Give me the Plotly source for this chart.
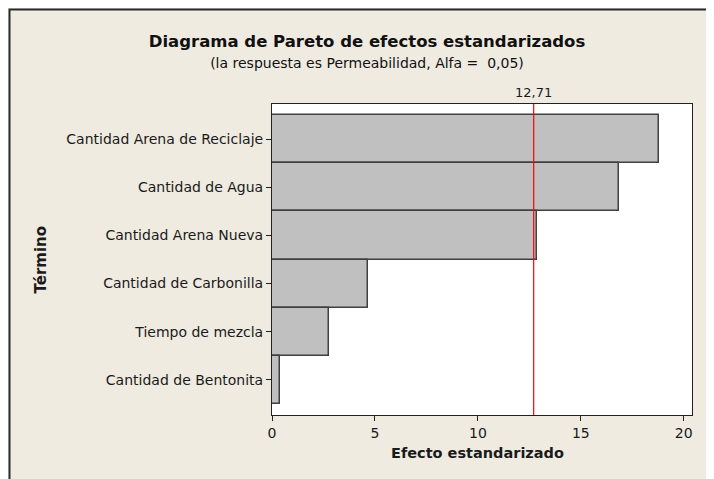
import plotly.graph_objects as go

TERMS = [
    'Cantidad Arena de Reciclaje',
    'Cantidad de Agua',
    'Cantidad Arena Nueva',
    'Cantidad de Carbonilla',
    'Tiempo de mezcla',
    'Cantidad de Bentonita',
]
EFFECTS = [18.8, 16.85, 12.87, 4.66, 2.77, 0.39]
CRITICAL = 12.71
X_TICKS = [0, 5, 10, 15, 20]

FONT = 'DejaVu Sans'
BG = '#EFEBE1'
INK = '#1a1a1a'

# page body keeps its 8px margin, so the paper starts at (8, 8)
W, H = 706, 471
L, R, T, B = 264, 22, 96, 64
PW, PH = W - L - R, H - T - B

fig = go.Figure()
fig.add_trace(go.Bar(
    x=EFFECTS,
    y=TERMS,
    orientation='h',
    marker=dict(color='#C0C0C0', line=dict(color='#404040', width=1.5)),
    hoverinfo='x+y',
))

fig.add_shape(type='line', xref='x', yref='paper', x0=CRITICAL, x1=CRITICAL, y0=0, y1=1,
              line=dict(color='#FF0000', width=1.2))
fig.add_annotation(x=CRITICAL, y=1, xref='x', yref='paper', text='12,71', showarrow=False,
                   yanchor='bottom', yshift=2, font=dict(family=FONT, size=13, color=INK))

# outer frame of the graph window
fig.add_shape(type='rect', xref='paper', yref='paper',
              x0=-(L - 1.5) / PW, x1=1.2, y0=-0.5, y1=(PH + T - 1.5) / PH,
              line=dict(color='#2a2a2a', width=2), layer='below')

# axis titles placed by hand
fig.add_annotation(x=(40 - 8 - L) / PW, y=0.5, xref='paper', yref='paper', text='<b>Término</b>',
                   textangle=-90, showarrow=False, xanchor='center', yanchor='middle',
                   font=dict(family=FONT, size=15, color=INK))
fig.add_annotation(x=0.49, y=-(453 - 415) / PH, xref='paper', yref='paper',
                   text='<b>Efecto estandarizado</b>', showarrow=False,
                   xanchor='center', yanchor='middle', font=dict(family=FONT, size=14.5, color=INK))

fig.update_layout(
    width=W,
    height=H,
    paper_bgcolor=BG,
    plot_bgcolor='white',
    margin=dict(l=L, r=R, t=T, b=B),
    bargap=0,
    showlegend=False,
    font=dict(family=FONT, size=14, color=INK),
    title=dict(
        text='<b>Diagrama de Pareto de efectos estandarizados</b><br>'
             '<span style="font-size:14px">(la respuesta es Permeabilidad, Alfa =  0,05)</span>',
        x=359 / W, xanchor='center', y=1 - 39 / H, yanchor='top',
        font=dict(family=FONT, size=16.5, color='#111'),
    ),
)
fig.update_xaxes(
    range=[0, 20.4],
    tickvals=X_TICKS,
    ticks='outside', ticklen=5, tickcolor='#222',
    tickfont=dict(size=14),
    showgrid=False, zeroline=False,
    showline=True, linecolor='#222', linewidth=1, mirror=True,
)
fig.update_yaxes(
    categoryorder='array', categoryarray=TERMS,
    range=[5.73, -0.73],
    ticks='outside', ticklen=5, tickcolor='#222',
    tickfont=dict(size=14),
    showgrid=False, zeroline=False,
    showline=True, linecolor='#222', linewidth=1, mirror=True,
)

fig.write_html('out.html')
